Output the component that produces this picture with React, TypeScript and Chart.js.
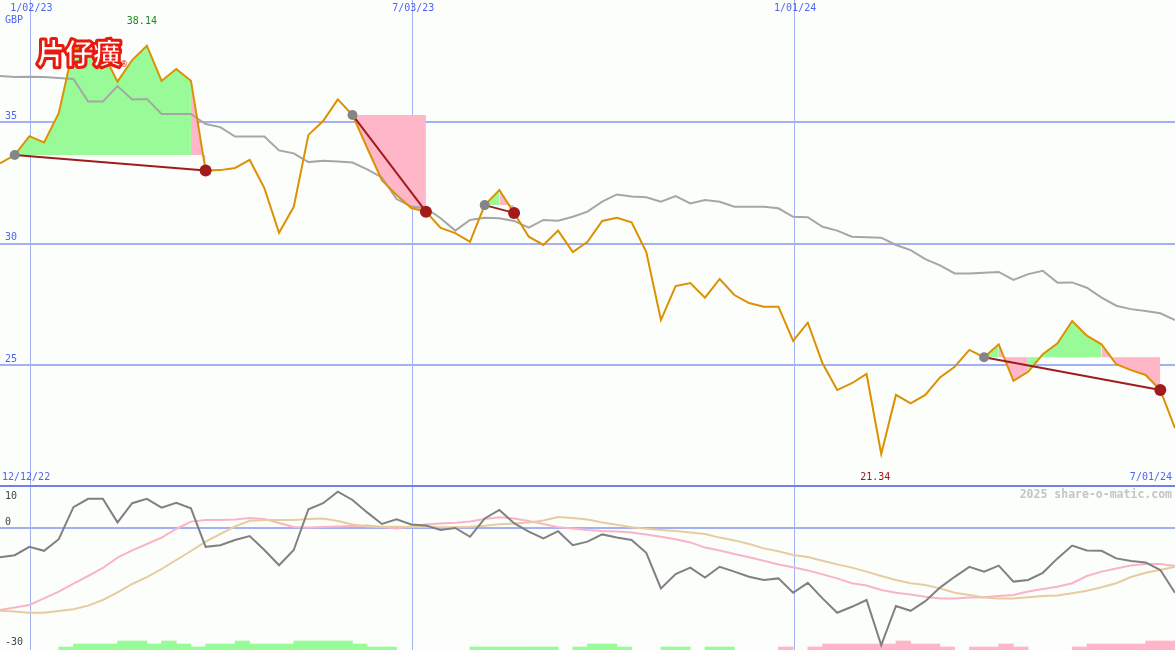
import React, { useEffect, useRef } from 'react';
import { Chart, registerables } from 'chart.js';

Chart.register(...registerables);

// ---- data (weekly points, index 0 = first visible week) ----
const PRICE = [
  33.30, 33.64, 34.42, 34.16, 35.36, 38.07, 37.89, 37.87, 36.66, 37.55,
  38.14, 36.69, 37.18, 36.70, 33.00, 33.02, 33.11, 33.44, 32.28, 30.44,
  31.51, 34.47, 35.04, 35.93, 35.29, 33.93, 32.61, 32.00, 31.46, 31.31,
  30.64, 30.43, 30.07, 31.58, 32.20, 31.26, 30.28, 29.94, 30.53, 29.65,
  30.07, 30.93, 31.06, 30.87, 29.66, 26.85, 28.25, 28.37, 27.77, 28.54,
  27.88, 27.55, 27.40, 27.40, 25.99, 26.74, 25.07, 23.97, 24.25, 24.63,
  21.34, 23.77, 23.42, 23.77, 24.49, 24.93, 25.62, 25.32, 25.85, 24.35,
  24.72, 25.44, 25.89, 26.81, 26.21, 25.85, 25.03, 24.79, 24.59, 23.97,
  22.40,
];

const MOVING_AVG = [
  36.89, 36.85, 36.86, 36.85, 36.81, 36.77, 35.84, 35.84, 36.48, 35.93,
  35.95, 35.33, 35.33, 35.33, 34.92, 34.79, 34.40, 34.40, 34.40, 33.83,
  33.71, 33.35, 33.41, 33.37, 33.33, 33.05, 32.72, 31.83, 31.52, 31.45,
  31.04, 30.53, 30.97, 31.06, 31.04, 30.93, 30.65, 30.97, 30.94, 31.10,
  31.31, 31.72, 32.02, 31.93, 31.90, 31.72, 31.95, 31.65, 31.79, 31.72,
  31.51, 31.51, 31.51, 31.45, 31.10, 31.08, 30.69, 30.53, 30.28, 30.26,
  30.24, 29.94, 29.73, 29.36, 29.10, 28.77, 28.77, 28.80, 28.83, 28.50,
  28.74, 28.88, 28.39, 28.40, 28.18, 27.77, 27.44, 27.30, 27.22, 27.13,
  26.85,
];

const OSC = [
  -7.3, -6.8, -4.7, -5.7, -2.8, 5.2, 7.3, 7.3, 1.4, 6.2,
  7.3, 5.1, 6.3, 4.9, -4.7, -4.3, -3.0, -2.0, -5.5, -9.3,
  -5.5, 4.7, 6.2, 9.1, 7.0, 3.9, 1.0, 2.2, 0.9, 0.6,
  -0.5, 0.0, -2.2, 2.4, 4.5, 1.2, -0.9, -2.6, -0.8, -4.3,
  -3.4, -1.6, -2.4, -3.0, -6.2, -15.1, -11.5, -9.9, -12.4, -9.7,
  -10.9, -12.2, -13.0, -12.6, -16.2, -13.7, -17.6, -21.2, -19.7, -18.0,
  -29.3, -19.5, -20.7, -18.3, -14.9, -12.2, -9.7, -10.9, -9.4, -13.4,
  -13.0, -11.2, -7.6, -4.4, -5.6, -5.7, -7.6, -8.25, -8.6, -10.5,
  -16.2,
];

const OSC_FAST = [
  -20.5, -19.9, -19.25, -17.6, -15.9, -13.9, -12.0, -10.0, -7.4, -5.6,
  -4.0, -2.4, -0.25, 1.6, 2.0, 2.0, 2.1, 2.5, 2.25, 1.25,
  0.25, 0.1, 0.25, 0.4, 0.5, 0.6, 0.25, -0.1, 0.4, 0.9,
  1.1, 1.3, 1.6, 2.25, 2.7, 2.4, 1.75, 1.0, 0.2, -0.1,
  -0.5, -0.75, -0.9, -1.1, -1.6, -2.2, -2.8, -3.6, -4.9, -5.65,
  -6.5, -7.3, -8.2, -9.1, -9.8, -10.6, -11.6, -12.6, -13.8, -14.4,
  -15.5, -16.2, -16.6, -17.2, -17.6, -17.6, -17.4, -17.3, -17.0, -16.75,
  -15.9, -15.25, -14.7, -13.8, -12.0, -10.9, -10.1, -9.4, -9.0, -9.0,
  -9.5,
];

const OSC_SLOW = [
  -20.7, -20.9, -21.2, -21.2, -20.75, -20.3, -19.4, -18.0, -16.1, -14.0,
  -12.3, -10.25, -8.0, -5.75, -3.4, -1.5, 0.4, 1.8, 2.0, 2.0,
  2.0, 2.25, 2.4, 1.75, 0.9, 0.4, 0.3, 0.3, 0.25, 0.25,
  0.2, 0.2, 0.3, 0.55, 0.95, 1.1, 1.4, 1.9, 2.75, 2.5,
  2.1, 1.4, 0.8, 0.2, -0.2, -0.5, -0.75, -1.1, -1.5, -2.4,
  -3.1, -4.0, -5.1, -5.8, -6.75, -7.25, -8.2, -9.1, -9.9, -10.9,
  -12.0, -13.0, -13.8, -14.25, -15.1, -16.2, -16.75, -17.4, -17.6, -17.6,
  -17.3, -17.0, -16.9, -16.3, -15.7, -14.8, -13.8, -12.25, -11.2, -10.5,
  -9.7,
];

// signed strength levels: positive = green bar, negative = pink bar
const HIST = [
  0, 0, 0, 0, 1, 2, 2, 2, 3, 3,
  2, 3, 2, 1, 2, 2, 3, 2, 2, 2,
  3, 3, 3, 3, 2, 1, 1, 0, 0, 0,
  0, 0, 1, 1, 1, 1, 1, 1, 0, 1,
  2, 2, 1, 0, 0, 1, 1, 0, 1, 1,
  0, 0, 0, -1, 0, -1, -2, -2, -2, -2,
  -2, -3, -2, -2, -1, 0, -1, -1, -2, -1,
  0, 0, 0, -1, -2, -2, -2, -2, -3, -3,
  0,
];

const TRADE_ENTRY = [1, 24, 33, 67];
const TRADE_EXIT = [14, 29, 35, 79];

const DATE_TICK_INDEX = [2, 28, 54];
const DATE_TICK_LABELS = ['1/02/23', '7/03/23', '1/01/24'];
const PRICE_TICKS = [35, 30, 25];
const OSC_TICKS = [10, 0, -30];
const START_LABEL = '12/12/22';
const END_LABEL = '7/01/24';
const CURRENCY = 'GBP';
const LOGO = '片仔癀';
const WATERMARK = '2025 share-o-matic.com';

// ---- styles ----
const BG = '#fcfefc';
const GRID = '#a4b0f4';
const SEP = '#7080ec';
const BLUE_TEXT = '#5064f0';
const ORANGE = '#dc9100';
const MA_GREY = '#a6a6a6';
const OSC_GREY = '#808080';
const OSC_PINK = '#f9b4c8';
const OSC_TAN = '#e6cc9e';
const GREEN_FILL = '#98fb98';
const PINK_FILL = '#ffb6c8';
const TRADE_RED = '#a01c1c';
const W = 1175;
const H = 650;

const pts = (arr: number[]) => arr.map((v, i) => ({ x: i, y: v }));

const decor = {
  id: 'decor',
  beforeDraw(chart: any) {
    const { ctx } = chart;
    ctx.save();
    ctx.fillStyle = BG;
    ctx.fillRect(0, 0, chart.width, chart.height);
    ctx.restore();
  },
  beforeDatasetsDraw(chart: any) {
    const { ctx } = chart;
    const { x, y, yo } = chart.scales;
    ctx.save();
    ctx.fillStyle = GRID;
    PRICE_TICKS.forEach((v) => {
      const p = Math.round(y.getPixelForValue(v));
      ctx.fillRect(0, p - 1, chart.width, 2);
    });
    const p0 = Math.round(yo.getPixelForValue(0));
    ctx.fillRect(0, p0 - 1, chart.width, 2);
    DATE_TICK_INDEX.forEach((i) => {
      const px = Math.round(x.getPixelForValue(i) + 0.4);
      ctx.fillRect(px, 0, 1, chart.height);
    });
    ctx.fillStyle = SEP;
    const ps = Math.round(y.getPixelForValue(20));
    ctx.fillRect(0, ps - 2, chart.width, 2);
    ctx.restore();
  },
  afterDatasetsDraw(chart: any) {
    const { ctx } = chart;
    const { x, y, yo } = chart.scales;
    ctx.save();
    ctx.textBaseline = 'middle';
    ctx.font = '10px "DejaVu Sans Mono"';
    ctx.fillStyle = BLUE_TEXT;
    ctx.textAlign = 'center';
    DATE_TICK_INDEX.forEach((i, k) => {
      ctx.fillText(DATE_TICK_LABELS[k], x.getPixelForValue(i) + 2, 8);
    });
    ctx.textAlign = 'left';
    ctx.fillText(CURRENCY, 5, 20);
    PRICE_TICKS.forEach((v) => {
      ctx.fillText(String(v), 5, y.getPixelForValue(v) - 6);
    });
    const sepY = y.getPixelForValue(20);
    ctx.fillText(START_LABEL, 2, sepY - 9);
    ctx.textAlign = 'right';
    ctx.fillText(END_LABEL, chart.width - 3, sepY - 9);

    // high / low labels
    let hi = 0;
    let lo = 0;
    PRICE.forEach((v, i) => {
      if (v > PRICE[hi]) hi = i;
      if (v < PRICE[lo]) lo = i;
    });
    ctx.textAlign = 'center';
    ctx.fillStyle = '#1c8c1c';
    ctx.fillText(PRICE[hi].toFixed(2), x.getPixelForValue(hi) - 5, 21);
    ctx.fillStyle = '#a01414';
    ctx.fillText(PRICE[lo].toFixed(2), x.getPixelForValue(lo) - 6, sepY - 9);

    // oscillator tick labels
    ctx.textAlign = 'left';
    ctx.fillStyle = '#444444';
    ctx.fillText(String(OSC_TICKS[0]), 5, yo.getPixelForValue(OSC_TICKS[0]) + 8);
    ctx.fillText(String(OSC_TICKS[1]), 5, yo.getPixelForValue(OSC_TICKS[1]) - 6);
    ctx.fillText(String(OSC_TICKS[2]), 5, yo.getPixelForValue(OSC_TICKS[2]) - 6);

    // watermark
    ctx.textAlign = 'right';
    ctx.fillStyle = '#c4c4c4';
    ctx.font = 'bold 11.5px "DejaVu Sans Mono"';
    ctx.fillText(WATERMARK, chart.width - 3, sepY + 9);

    // logo
    ctx.textAlign = 'left';
    ctx.textBaseline = 'alphabetic';
    ctx.font = 'bold 28px "Noto Sans CJK SC"';
    ctx.lineJoin = 'round';
    ctx.strokeStyle = '#e8190f';
    ctx.lineWidth = 5;
    ctx.strokeText(LOGO, 37, 64);
    ctx.fillStyle = '#ffffff';
    ctx.fillText(LOGO, 37, 64);
    ctx.lineWidth = 1;
    ctx.strokeText(LOGO, 37, 64);
    ctx.font = '8px "DejaVu Sans"';
    ctx.fillStyle = '#e8190f';
    ctx.fillText('®', 120, 67);
    ctx.restore();
  },
};

function buildDatasets() {
  const datasets: any[] = [];

  // trade fills between price and entry level
  TRADE_ENTRY.forEach((entry, k) => {
    const exit = TRADE_EXIT[k];
    const level = PRICE[entry];
    const data = [];
    for (let i = entry; i <= exit; i++) data.push({ x: i, y: PRICE[i] });
    datasets.push({
      type: 'line',
      data,
      yAxisID: 'y',
      borderWidth: 0,
      borderColor: 'rgba(0,0,0,0)',
      backgroundColor: GREEN_FILL,
      pointRadius: 0,
      fill: { value: level },
      segment: {
        backgroundColor: (c: any) =>
          data[c.p1DataIndex].y >= level ? GREEN_FILL : PINK_FILL,
      },
      order: 5,
    });
  });

  // histogram bars
  const barData: any[] = [];
  const barColors: string[] = [];
  HIST.forEach((h, i) => {
    if (h !== 0) {
      barData.push({ x: i + 0.5, y: Math.abs(h) });
      barColors.push(h > 0 ? GREEN_FILL : PINK_FILL);
    }
  });
  datasets.push({
    type: 'bar',
    data: barData,
    yAxisID: 'yh',
    backgroundColor: barColors,
    borderWidth: 0,
    barPercentage: 1,
    categoryPercentage: 1,
    order: 6,
  });

  // oscillator lines
  datasets.push({ type: 'line', data: pts(OSC_SLOW), yAxisID: 'yo', borderColor: OSC_TAN, borderWidth: 2, pointRadius: 0, order: 4 });
  datasets.push({ type: 'line', data: pts(OSC_FAST), yAxisID: 'yo', borderColor: OSC_PINK, borderWidth: 2, pointRadius: 0, order: 4 });
  datasets.push({ type: 'line', data: pts(OSC), yAxisID: 'yo', borderColor: OSC_GREY, borderWidth: 2, pointRadius: 0, order: 3 });

  // price panel lines
  datasets.push({ type: 'line', data: pts(MOVING_AVG), yAxisID: 'y', borderColor: MA_GREY, borderWidth: 2, pointRadius: 0, order: 3 });
  datasets.push({ type: 'line', data: pts(PRICE), yAxisID: 'y', borderColor: ORANGE, borderWidth: 2, pointRadius: 0, order: 2 });

  TRADE_ENTRY.forEach((entry, k) => {
    const exit = TRADE_EXIT[k];
    datasets.push({
      type: 'line',
      data: [
        { x: entry, y: PRICE[entry] },
        { x: exit, y: PRICE[exit] },
      ],
      yAxisID: 'y',
      borderColor: TRADE_RED,
      borderWidth: 2,
      pointRadius: 0,
      order: 1,
    });
  });

  datasets.push({
    type: 'line',
    data: TRADE_ENTRY.map((i) => ({ x: i, y: PRICE[i] })),
    yAxisID: 'y',
    showLine: false,
    pointRadius: 5,
    pointBorderWidth: 0,
    pointBackgroundColor: '#858585',
    order: 0,
  });
  datasets.push({
    type: 'line',
    data: TRADE_EXIT.map((i) => ({ x: i, y: PRICE[i] })),
    yAxisID: 'y',
    showLine: false,
    pointRadius: 6,
    pointBorderWidth: 0,
    pointBackgroundColor: '#a31a1a',
    order: 0,
  });
  return datasets;
}

export default function App() {
  const ref = useRef<HTMLCanvasElement>(null);
  useEffect(() => {
    document.body.style.margin = '0';
    const canvas = ref.current as HTMLCanvasElement;
    const chart = new Chart(canvas, {
      type: 'line',
      data: { datasets: buildDatasets() },
      options: {
        responsive: false,
        animation: false,
        devicePixelRatio: 1,
        events: [],
        layout: { padding: 0, autoPadding: false },
        plugins: {
          legend: { display: false },
          tooltip: { enabled: false },
          title: { display: false },
        },
        scales: {
          x: { type: 'linear', display: false, min: 0, max: 80, offset: false, grid: { offset: false } },
          y: { type: 'linear', display: false, min: 13.272, max: 40.021 },
          yo: { type: 'linear', display: false, min: -30.5, max: 132 },
          yh: { type: 'linear', display: false, min: 0, max: H / 3 },
        },
      } as any,
      plugins: [decor],
    });
    return () => chart.destroy();
  }, []);
  return (
    <div style={{ position: 'absolute', left: 0, top: 0, width: W, height: H }}>
      <canvas ref={ref} width={W} height={H} style={{ display: 'block' }} />
    </div>
  );
}
